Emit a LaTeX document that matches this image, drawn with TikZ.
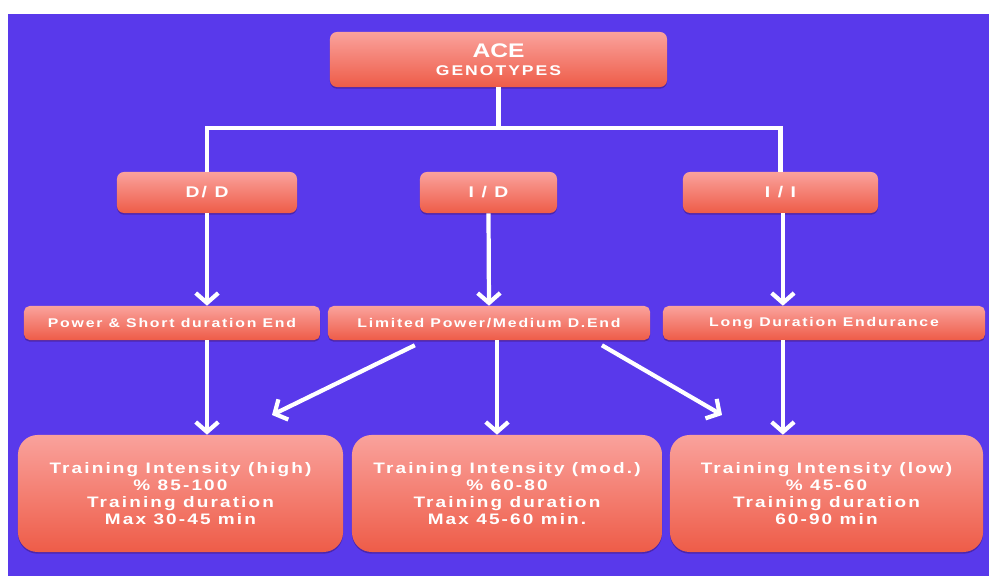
\documentclass[tikz,border=0pt]{standalone}
\usepackage{fontspec}
\setmainfont{Liberation Sans}[FakeStretch=1.25]
\newfontfamily\widefont{Liberation Sans}[FakeStretch=1.25,LetterSpace=14]
\usetikzlibrary{arrows.meta,calc,shadows}
\definecolor{bgblue}{RGB}{89,57,235}
\definecolor{boxtop}{RGB}{250,162,156}
\definecolor{boxbot}{RGB}{238,92,72}
\definecolor{boxshade}{RGB}{70,30,150}
\begin{document}
\begin{tikzpicture}[x=0.025cm,y=-0.025cm,
    box/.style={rounded corners=5pt, top color=boxtop, bottom color=boxbot,
        text=white, font=\bfseries, align=center, inner sep=0pt,
        drop shadow={shadow xshift=0pt, shadow yshift=-1.2pt, fill=boxshade, opacity=0.7}},
    link/.style={white, line width=3pt},
    arr/.style={white, line width=3pt, -{Straight Barb[length=7pt,width=16pt]}}]
    % Sfondo
    \useasboundingbox (0,0) rectangle (989,576);
    \fill[white] (0,0) rectangle (989,576);
    \fill[bgblue] (8,14) rectangle (989,576);

    % Genotipi
    \node[box, minimum width=8.425cm, minimum height=1.375cm] (ace) at (498.5,59.5)
        {\fontsize{14}{15}\selectfont ACE\\[1pt]\fontsize{10}{11}\widefont GENOTYPES};
    \node[box, minimum width=4.5cm, minimum height=1.025cm, font=\bfseries\fontsize{11}{13}\selectfont\widefont]
        (dd) at (207,192.5) {D/ D};
    \node[box, minimum width=3.425cm, minimum height=1.025cm, font=\bfseries\fontsize{11}{13}\selectfont\widefont]
        (id) at (488.5,192.5) {I / D};
    \node[box, minimum width=4.875cm, minimum height=1.025cm, font=\bfseries\fontsize{11}{13}\selectfont\widefont]
        (ii) at (780.5,192.5) {I / I};

    % Tipo di prestazione
    \node[box, rounded corners=4pt, minimum width=7.4cm, minimum height=0.85cm, font=\bfseries\fontsize{9}{10}\selectfont\widefont]
        (power) at (172,323) {Power \& Short duration End};
    \node[box, rounded corners=4pt, minimum width=8.05cm, minimum height=0.85cm, font=\bfseries\fontsize{9}{10}\selectfont\widefont]
        (limited) at (489,323) {Limited Power/Medium D.End};
    \node[box, rounded corners=4pt, minimum width=8.05cm, minimum height=0.85cm, font=\bfseries\fontsize{9}{10}\selectfont\widefont]
        (long) at (824,323) {Long Duration Endurance};

    % Allenamento
    \node[box, rounded corners=14pt, minimum width=8.125cm, minimum height=2.925cm, font=\bfseries\fontsize{10.8}{12}\selectfont\widefont]
        (high) at (180.5,493.5) {Training Intensity (high)\\ \% 85-100\\ Training duration\\ Max 30-45 min};
    \node[box, rounded corners=14pt, minimum width=7.75cm, minimum height=2.925cm, font=\bfseries\fontsize{10.8}{12}\selectfont\widefont]
        (mod) at (507,493.5) {Training Intensity (mod.)\\ \% 60-80\\ Training duration\\ Max 45-60 min.};
    \node[box, rounded corners=14pt, minimum width=7.825cm, minimum height=2.925cm, font=\bfseries\fontsize{10.8}{12}\selectfont\widefont]
        (low) at (826.5,493.5) {Training Intensity (low)\\ \% 45-60\\ Training duration\\ 60-90 min};

    % Collegamenti
    \coordinate (split) at (498.5,128);
    \coordinate (tohigh) at (272,415);
    \coordinate (tolow) at (722,415);
    \draw[link] (ace.south) -- (split);
    \draw[link] (dd.north) |- (split) -| (ii.north);

    \draw[arr] (dd.south) -- (dd.south |- power.north);
    \draw[arr] (id.south) -- (limited.north);
    \draw[arr] ([xshift=0.06cm]ii.south) -- ([xshift=0.06cm]ii.south |- long.north);

    \draw[arr] (dd.south |- power.south) -- (dd.south |- high.north);
    \draw[arr] ([xshift=0.2cm]limited.south) -- ([xshift=0.2cm]limited.south |- mod.north);
    \draw[arr] ([xshift=0.06cm]ii.south |- long.south) -- ([xshift=0.06cm]ii.south |- low.north);
    \draw[arr] ($(limited.south west)!0.27!(limited.south east)+(0,5)$) -- (tohigh);
    \draw[arr] ($(limited.south west)!0.85!(limited.south east)+(0,5)$) -- (tolow);
\end{tikzpicture}
\end{document}
